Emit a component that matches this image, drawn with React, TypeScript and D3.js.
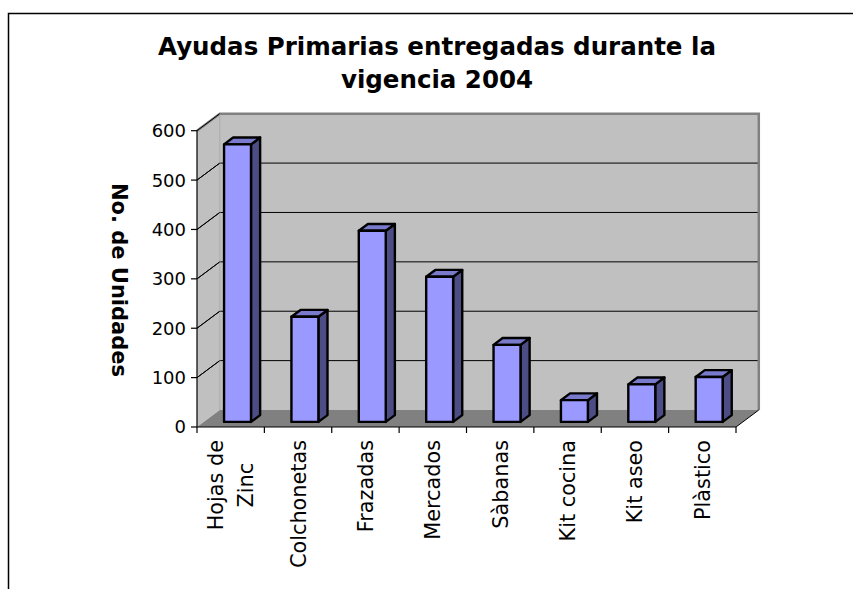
import React, { useEffect, useRef } from "react";
import * as d3 from "d3";

const categories = ["Hojas de\nZinc", "Colchonetas", "Frazadas", "Mercados", "Sàbanas", "Kit cocina", "Kit aseo", "Plàstico"];
const values = [562, 213, 387, 294, 156, 44, 76, 91];
const yTicks = [0, 100, 200, 300, 400, 500, 600];
const titleLines = ["Ayudas Primarias entregadas durante la", "vigencia 2004"];
const yTitle = "No. de Unidades";

export default function App() {
  const ref = useRef<SVGSVGElement | null>(null);

  useEffect(() => {
    const svg = d3.select(ref.current);
    svg.selectAll("*").remove();
    const font = "'DejaVu Sans', Verdana, sans-serif";

    const X0 = 197, X1 = 736, YB = 427, YT = 130.7;
    const DX = 22.8, DY = -17;
    const y = d3.scaleLinear().domain([0, 600]).range([YB, YT]);
    const x = d3.scaleBand<string>().domain(categories).range([X0, X1]).paddingInner(0.6).paddingOuter(0.3);
    const step = x.step();

    // outer border
    svg.append("rect").attr("x", 8.5).attr("y", 13.5).attr("width", 900).attr("height", 700)
      .attr("fill", "white").attr("stroke", "black").attr("stroke-width", 1.5);

    // title
    const t = svg.append("text").attr("x", 437).attr("font-family", font).attr("font-weight", "bold")
      .attr("font-size", 24.5).attr("text-anchor", "middle");
    titleLines.forEach((l, i) => t.append("tspan").attr("x", 437).attr("y", 55 + i * 33).text(l));

    // walls
    const line = d3.line();
    const yTop = y(600);
    svg.append("path").attr("d", line([[X0, YB], [X0, yTop], [X0 + DX, yTop + DY], [X0 + DX, YB + DY]]) + "Z")
      .attr("fill", "#c0c0c0");
    svg.append("path").attr("d", line([[X0 + DX, YB + DY], [X0 + DX, yTop + DY], [X1 + DX, yTop + DY], [X1 + DX, YB + DY]]) + "Z")
      .attr("fill", "#c0c0c0");
    // gridlines
    yTicks.filter(v => v > 0 && v < 600).forEach(v => {
      const yy = y(v);
      svg.append("path").attr("d", line([[X0, yy], [X0 + DX, yy + DY], [X1 + DX, yy + DY]]))
        .attr("fill", "none").attr("stroke", "black").attr("stroke-width", 1);
    });
    // wall edges
    svg.append("path").attr("d", line([[X0, yTop], [X0 + DX, yTop + DY], [X1 + DX, yTop + DY], [X1 + DX, YB + DY]]))
      .attr("fill", "none").attr("stroke", "#808080").attr("stroke-width", 2.5);
    svg.append("path").attr("d", line([[X0 + DX, yTop + DY], [X0 + DX, YB + DY]]))
      .attr("fill", "none").attr("stroke", "#a8a8a8").attr("stroke-width", 1);
    // floor
    svg.append("path").attr("d", line([[X0, YB], [X1, YB], [X1 + DX, YB + DY], [X0 + DX, YB + DY]]) + "Z")
      .attr("fill", "#808080");
    svg.append("path").attr("d", line([[X1, YB], [X1 + DX, YB + DY]]))
      .attr("fill", "none").attr("stroke", "black").attr("stroke-width", 1);

    // bars
    const f0 = 0.3, fd = 0.4;
    const bw = x.bandwidth();
    const dd = fd * DX, dh = fd * DY;
    categories.forEach((c, i) => {
      const bx = (x(c) as number) + f0 * DX;
      const yb = YB + f0 * DY;
      const yv = y(values[i]) + f0 * DY;
      const g = svg.append("g").attr("stroke", "black").attr("stroke-width", 2.4).attr("stroke-linejoin", "round");
      g.append("path").attr("d", line([[bx + bw, yv], [bx + bw + dd, yv + dh], [bx + bw + dd, yb + dh], [bx + bw, yb]]) + "Z")
        .attr("fill", "#4d4d85");
      g.append("path").attr("d", line([[bx, yv], [bx + dd, yv + dh], [bx + bw + dd, yv + dh], [bx + bw, yv]]) + "Z")
        .attr("fill", "#7a7acc");
      g.append("rect").attr("x", bx).attr("y", yv).attr("width", bw).attr("height", yb - yv)
        .attr("fill", "#9999ff");
    });

    // axes
    svg.append("line").attr("x1", X0).attr("x2", X0).attr("y1", yTop).attr("y2", YB)
      .attr("stroke", "black").attr("stroke-width", 1.2);
    svg.append("line").attr("x1", X0).attr("x2", X1).attr("y1", YB).attr("y2", YB)
      .attr("stroke", "black").attr("stroke-width", 1.2);
    yTicks.forEach(v => {
      svg.append("line").attr("x1", X0 - 6).attr("x2", X0).attr("y1", y(v)).attr("y2", y(v))
        .attr("stroke", "black").attr("stroke-width", 1.2);
      if (v > 0) {
        svg.append("line").attr("x1", X0).attr("x2", X0 + DX).attr("y1", y(v)).attr("y2", y(v) + DY)
          .attr("stroke", "black").attr("stroke-width", 1);
      }
      svg.append("text").attr("x", 186).attr("y", y(v)).attr("dy", "0.36em")
        .attr("text-anchor", "end").attr("font-family", font).attr("font-size", 18).text(String(v));
    });
    for (let i = 0; i <= categories.length; i++) {
      const xx = X0 + i * step;
      svg.append("line").attr("x1", xx).attr("x2", xx).attr("y1", YB).attr("y2", YB + 6)
        .attr("stroke", "black").attr("stroke-width", 1.2);
    }
    // category labels
    categories.forEach(c => {
      const cx = (x(c) as number) + bw / 2;
      const lines = c.split("\n");
      const lh = 30;
      const g = svg.append("g");
      const texts = lines.map(l =>
        g.append("text").attr("font-family", font).attr("font-size", 20.8)
          .attr("text-anchor", "middle").attr("dy", "0.36em").text(l));
      const widths = texts.map(tx => (tx.node() as SVGTextElement).getComputedTextLength());
      const maxW = Math.max(...widths);
      const cy = 440 + maxW / 2;
      texts.forEach((tx, j) => {
        const off = (j - (lines.length - 1) / 2) * lh;
        tx.attr("transform", `translate(${cx + off},${cy}) rotate(-90)`);
      });
    });

    // y title
    svg.append("text").attr("transform", `translate(112,280) rotate(90)`)
      .attr("text-anchor", "middle").attr("font-family", font).attr("font-weight", "bold")
      .attr("font-size", 21).text(yTitle);
  }, []);

  return (
    <svg ref={ref} width={853} height={589}
      style={{ position: "absolute", left: 0, top: 0, background: "white" }} />
  );
}
